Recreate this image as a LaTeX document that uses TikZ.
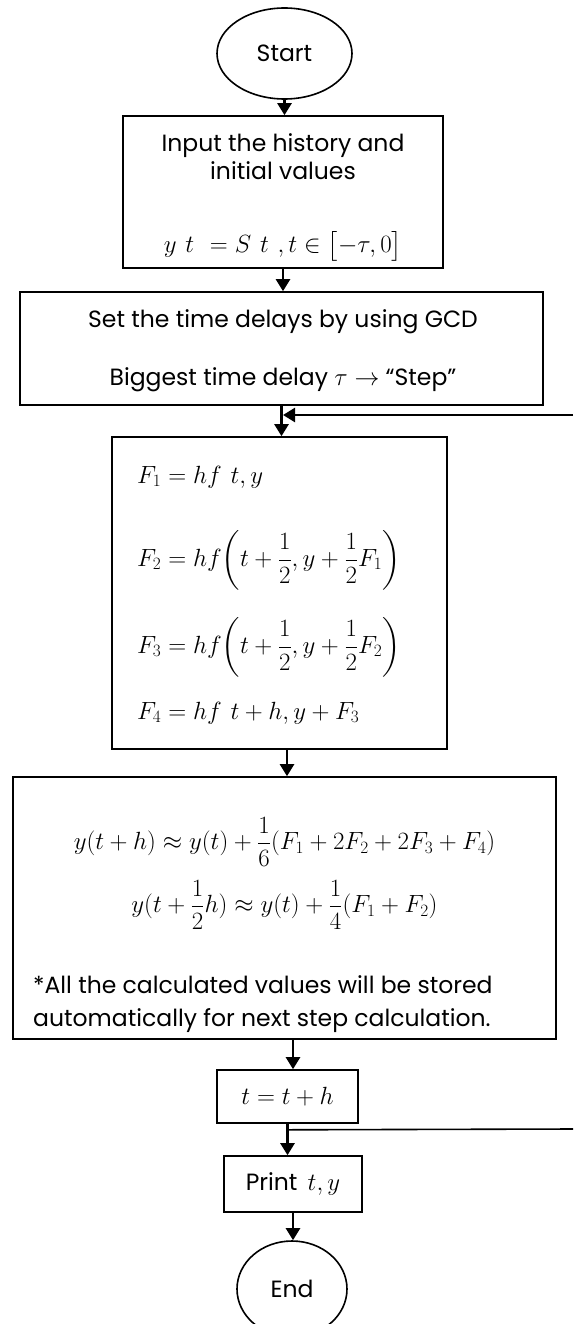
\documentclass[tikz,border=0pt]{standalone}
\usepackage{amsmath}
\usepackage[no-math]{fontspec}
\setmainfont{Poppins}
\usetikzlibrary{arrows.meta,shapes.geometric,calc}
\newcommand{\txtsize}{\fontsize{23.5}{28}\selectfont}
\newcommand{\mthsize}{\fontsize{24.5}{29}\selectfont}
\begin{document}
\begin{tikzpicture}[x=1pt,y=-1pt,
  box/.style={draw,line width=1.6pt,rectangle,inner sep=0pt},
  term/.style={draw,line width=1.6pt,ellipse,inner sep=0pt,font=\txtsize},
  txt/.style={inner sep=0pt,font=\txtsize},
  mth/.style={inner sep=0pt,font=\mthsize},
  arr/.style={line width=2.4pt,-{Triangle[width=14pt,length=12pt]}},
  ln/.style={line width=1.6pt}]
\useasboundingbox (0,0) rectangle (573,1324);
% terminals and boxes
\node[term,minimum width=135pt,minimum height=91pt] (start) at (284.5,53.5) {Start};
\node[box,minimum width=320pt,minimum height=152pt] (input) at (283,192) {};
\node[box,minimum width=523pt,minimum height=113pt] (set) at (281.5,348.5) {};
\node[box,minimum width=335pt,minimum height=312pt] (fbox) at (279.5,593) {};
\node[box,minimum width=543pt,minimum height=262pt] (rk) at (284.5,908) {};
\node[box,minimum width=141pt,minimum height=53pt] (tstep) at (287.5,1096.5) {};
\node[box,minimum width=138pt,minimum height=56pt] (print) at (293,1184) {};
\node[term,minimum width=110pt,minimum height=96pt] (end) at (292,1289) {End};
% texts
\node[txt,anchor=base] (in1) at (283,152) {Input the history and};
\node[txt,anchor=base] (in2) at (283,180) {initial values};
\node[mth] (in3) at (283,246) {$y\hphantom{(}t\hphantom{)}=S\hphantom{(}t\hphantom{)},t\in\bigl[-\tau,0\bigr]$};
\node[txt,anchor=base] (set1) at (283,327) {Set the time delays by using GCD};
\node[txt,anchor=base] (set2) at (283,385) {Biggest time delay {\mthsize$\tau\rightarrow$} “Step”};
\node[mth,anchor=west] (f1) at (137,477) {$F_1=hf\hphantom{(}t,y\hphantom{)}$};
\node[mth,anchor=west] (f2) at (137,560) {$F_2=hf\!\left(t+\dfrac{1}{2},y+\dfrac{1}{2}F_1\right)$};
\node[mth,anchor=west] (f3) at (137,647) {$F_3=hf\!\left(t+\dfrac{1}{2},y+\dfrac{1}{2}F_2\right)$};
\node[mth,anchor=west] (f4) at (137,713) {$F_4=hf\hphantom{(}t+h,y+F_3\hphantom{)}$};
\node[mth] (rk1) at (284.5,842) {$y(t+h)\approx y(t)+\dfrac{1}{6}(F_1+2F_2+2F_3+F_4)$};
\node[mth] (rk2) at (284.5,905) {$y(t+\dfrac{1}{2}h)\approx y(t)+\dfrac{1}{4}(F_1+F_2)$};
\node[txt,anchor=base west] (note1) at (33,993) {*All the calculated values will be stored};
\node[txt,anchor=base west] (note2) at (33,1026) {automatically for next step calculation.};
\node[mth] (ttxt) at (287.5,1097) {$t=t+h$};
\node[txt] (ptxt) at (293,1184) {Print\, {\mthsize$t,y$}};
% connectors
\coordinate (loopin) at (573,415);
\coordinate (c1) at ($(fbox.south)+(7.5,0)$);
\coordinate (c2) at ($(tstep.north)+(5.5,0)$);
\coordinate (fork) at ($(tstep.south)+(0,6)$);
\coordinate (loopout) at (573,1129);
\draw[arr] (start.south) -- (start.south |- input.north);
\draw[arr] (input.south) -- (input.south |- set.north);
\draw[arr] (set.south) -- (set.south |- fbox.north);
\draw[arr] (loopin) -- ($(loopin -| set.south)+(1.5,0)$);
\draw[arr] (c1) -- (c1 |- rk.north);
\draw[arr] (c2 |- rk.south) -- (c2);
\draw[arr] (tstep.south) -- (tstep.south |- print.north);
\draw[ln] (fork) -- (loopout);
\draw[arr] (print.south) -- (print.south |- end.north);
\end{tikzpicture}
\end{document}
